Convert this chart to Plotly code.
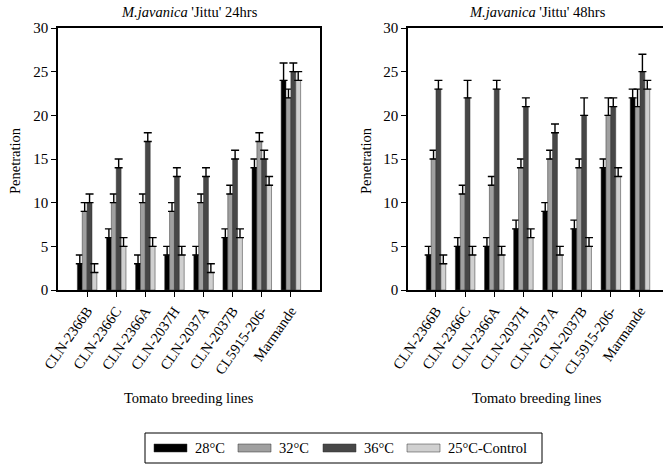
import plotly.graph_objects as go

W, H = 663, 470

categories = ["CLN-2366B", "CLN-2366C", "CLN-2366A", "CLN-2037H",
              "CLN-2037A", "CLN-2037B", "CL5915-206-", "Marmande"]
series_names = ["28°C", "32°C", "36°C", "25°C-Control"]
colors = ["#000000", "#a0a0a0", "#474747", "#d0d0d0"]

# 24 hrs
v24_28 = [3, 6, 3, 4, 4, 6, 14, 24]
v24_32 = [9, 10, 10, 9, 10, 11, 17, 22]
v24_36 = [10, 14, 17, 13, 13, 15, 15, 25]
v24_25 = [2, 5, 5, 4, 2, 6, 12, 24]
e24_28 = [1, 1, 1, 1, 1, 1, 1, 2]
e24_32 = [1, 1, 1, 1, 1, 1, 1, 1]
e24_36 = [1, 1, 1, 1, 1, 1, 1, 1]
e24_25 = [1, 1, 1, 1, 1, 1, 1, 1]

# 48 hrs
v48_28 = [4, 5, 5, 7, 9, 7, 14, 22]
v48_32 = [15, 11, 12, 14, 15, 14, 20, 21]
v48_36 = [23, 22, 23, 21, 18, 20, 21, 25]
v48_25 = [3, 4, 4, 6, 4, 5, 13, 23]
e48_28 = [1, 1, 1, 1, 1, 1, 1, 1]
e48_32 = [1, 1, 1, 1, 1, 1, 2, 2]
e48_36 = [1, 2, 1, 1, 1, 2, 1, 2]
e48_25 = [1, 1, 1, 1, 1, 1, 1, 1]

panels = [
    ([v24_28, v24_32, v24_36, v24_25], [e24_28, e24_32, e24_36, e24_25], "x", "y"),
    ([v48_28, v48_32, v48_36, v48_25], [e48_28, e48_32, e48_36, e48_25], "x2", "y2"),
]

FONT = "Liberation Serif"

def px(x):
    return x / W

def py(y):
    return 1 - y / H

fig = go.Figure()
for vals, errs, xa, ya in panels:
    for name, col, v, e in zip(series_names, colors, vals, errs):
        fig.add_trace(go.Bar(
            x=list(range(len(categories))), y=v, name=name,
            marker=dict(color=col, line=dict(color="#333333", width=0.5)),
            error_y=dict(type="data", symmetric=False, array=e,
                         arrayminus=[0] * len(e), color="black",
                         thickness=1.4, width=4),
            xaxis=xa, yaxis=ya, showlegend=False,
        ))

xcommon = dict(tickmode="array", tickvals=list(range(len(categories))),
               ticktext=categories, tickangle=-55, ticks="outside",
               ticklen=5, tickcolor="black", showline=True, linecolor="black",
               linewidth=1.5, showgrid=False, zeroline=False, automargin=False,
               tickfont=dict(family=FONT, size=14.5, color="black"))
ycommon = dict(range=[0, 30], dtick=5, ticks="outside", ticklen=5,
               tickcolor="black", showline=True, linecolor="black",
               linewidth=1.5, showgrid=False, zeroline=False, automargin=False,
               tickfont=dict(family=FONT, size=15, color="black"))

ydom = [py(290), py(28)]
fig.update_layout(
    template="none",
    width=W, height=H,
    margin=dict(l=0, r=0, t=0, b=0, pad=0),
    paper_bgcolor="white", plot_bgcolor="white",
    barmode="group", bargap=0.33, bargroupgap=0,
    font=dict(family=FONT, color="black"),
    xaxis=dict(domain=[px(58), px(320)], range=[-1, 8], anchor="y",
               mirror=True, **xcommon),
    yaxis=dict(domain=ydom, anchor="x", mirror=True, **ycommon),
    xaxis2=dict(domain=[px(408), 1.0], range=[-0.96, 7.79], anchor="y2",
                mirror=True, **xcommon),
    yaxis2=dict(domain=ydom, anchor="x2", mirror=False, **ycommon),
)

ann = []
titles = ["<i>M.javanica</i> 'Jittu' 24hrs", "<i>M.javanica</i> 'Jittu' 48hrs"]
title_x = [189, 537]
ylab_x = [15, 366]
for t, tx, yx in zip(titles, title_x, ylab_x):
    ann.append(dict(text=t, x=px(tx), y=py(12), xref="paper", yref="paper",
                    xanchor="center", yanchor="middle",
                    showarrow=False, font=dict(family=FONT, size=14.5)))
    ann.append(dict(text="Tomato breeding lines", x=px(tx), y=py(398),
                    xref="paper", yref="paper", showarrow=False,
                    xanchor="center", yanchor="middle",
                    font=dict(family=FONT, size=14.5)))
    ann.append(dict(text="Penetration", x=px(yx), y=py(161), xref="paper",
                    yref="paper", showarrow=False, textangle=-90,
                    xanchor="center", yanchor="middle",
                    font=dict(family=FONT, size=14.5)))

# legend (custom, wide swatches like the original)
shapes = [dict(type="rect", xref="paper", yref="paper", x0=px(145), x1=px(542),
               y0=py(463), y1=py(433), line=dict(color="black", width=1),
               fillcolor="white", layer="below")]
leg_x = [154, 238, 323, 407]
for name, col, lx in zip(series_names, colors, leg_x):
    shapes.append(dict(type="rect", xref="paper", yref="paper",
                       x0=px(lx), x1=px(lx + 33), y0=py(452), y1=py(444),
                       fillcolor=col, line=dict(color="#333333", width=0.5)))
    ann.append(dict(text=name, x=px(lx + 39), y=py(448), xref="paper",
                    yref="paper", xanchor="left", yanchor="middle",
                    showarrow=False, font=dict(family=FONT, size=14.5)))

fig.update_layout(annotations=ann, shapes=shapes)
fig.write_html("out.html")
